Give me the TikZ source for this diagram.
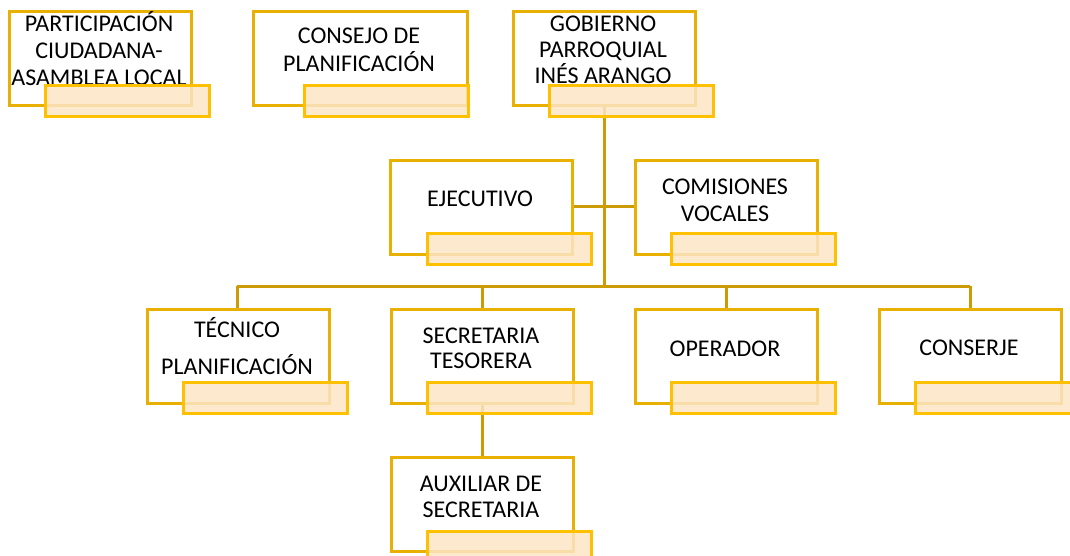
\documentclass[tikz,border=0pt]{standalone}
\usepackage{fontspec}
\setmainfont{Carlito}
\definecolor{boxline}{HTML}{E8B000}
\definecolor{connc}{HTML}{CC9C06}
\definecolor{ovline}{HTML}{FFC000}
\definecolor{ovfill}{HTML}{FDE6C6}
\tikzset{
  box/.style={draw=boxline, line width=3pt, fill=white, rectangle, minimum width=182pt, minimum height=94pt, anchor=north west, inner sep=0pt},
  ov/.style={draw=ovline, line width=3pt, fill=ovfill, fill opacity=0.85, rectangle, minimum width=164pt, minimum height=31pt, anchor=north west, inner sep=0pt},
  lbl/.style={font=\fontsize{24}{28}\selectfont, anchor=base, inner sep=0pt, text=black},
  connline/.style={draw=connc, line width=3pt}
}
\begin{document}
\begin{tikzpicture}[x=1pt,y=-1pt]
\useasboundingbox (0,0) rectangle (1070,556);
\clip (0,0) rectangle (1070,556);
% junction coordinates
\coordinate (trunkTop) at (604,105);
\coordinate (jMid) at (604,206);
\coordinate (jBot) at (604,286);
\coordinate (hL) at (237,286);
\coordinate (hR) at (970,286);
% boxes
\node[box] (part) at (8,10) {};
\node[box, minimum width=214pt] (cons) at (252,10) {};
\node[box] (gob) at (512,10) {};
\node[box] (eje) at (389,159) {};
\node[box] (com) at (634,159) {};
\node[box] (tec) at (146,308) {};
\node[box] (sec) at (390,308) {};
\node[box] (ope) at (634,308) {};
\node[box] (conj) at (878,308) {};
\node[box] (aux) at (390,456) {};
% connectors
\draw[connline] (gob.south -| trunkTop) -- (jBot);
\draw[connline] (eje.east |- jMid) -- (com.west |- jMid);
\draw[connline] (hL) -- (hR);
\draw[connline] (hL) -- (tec.north -| hL);
\draw[connline] (sec.north |- jBot) -- (sec.north);
\draw[connline] (ope.north |- jBot) -- (ope.north);
\draw[connline] (hR) -- (conj.north -| hR);
\draw[connline] (sec.south) -- (aux.north);
% redraw boxes over connectors
\node[box] at (8,10) {};
\node[box, minimum width=214pt] at (252,10) {};
\node[box] at (512,10) {};
\node[box] at (389,159) {};
\node[box] at (634,159) {};
\node[box] at (146,308) {};
\node[box] at (390,308) {};
\node[box] at (634,308) {};
\node[box] at (878,308) {};
\node[box] at (390,456) {};
% labels
\node[lbl] (t1a) at (99,32) {PARTICIPACIÓN};
\node[lbl] (t1b) at (99,59) {CIUDADANA-};
\node[lbl] (t1c) at (99,86) {ASAMBLEA LOCAL};
\node[lbl] (t2a) at (359,44) {CONSEJO DE};
\node[lbl] (t2b) at (359,72) {PLANIFICACIÓN};
\node[lbl] (t3a) at (603,32) {GOBIERNO};
\node[lbl] (t3b) at (603,58) {PARROQUIAL};
\node[lbl] (t3c) at (603,84) {INÉS ARANGO};
\node[lbl] (t4) at (480,207) {EJECUTIVO};
\node[lbl] (t5a) at (725,194) {COMISIONES};
\node[lbl] (t5b) at (725,221) {VOCALES};
\node[lbl] (t6a) at (237,337) {TÉCNICO};
\node[lbl] (t6b) at (237,374) {PLANIFICACIÓN};
\node[lbl] (t7a) at (481,343) {SECRETARIA};
\node[lbl] (t7b) at (481,368) {TESORERA};
\node[lbl] (t8) at (725,356) {OPERADOR};
\node[lbl] (t9) at (969,355) {CONSERJE};
\node[lbl] (t10a) at (481,491) {AUXILIAR DE};
\node[lbl] (t10b) at (481,517) {SECRETARIA};
% overlays
\node[ov] (o1) at (44,84) {};
\node[ov] (o2) at (303,84) {};
\node[ov] (o3) at (548,84) {};
\node[ov] (o4) at (426,232) {};
\node[ov] (o5) at (670,232) {};
\node[ov] (o6) at (182,381) {};
\node[ov] (o7) at (426,381) {};
\node[ov] (o8) at (670,381) {};
\node[ov] (o9) at (914,381) {};
\node[ov] (o10) at (426,530) {};
\end{tikzpicture}
\end{document}
